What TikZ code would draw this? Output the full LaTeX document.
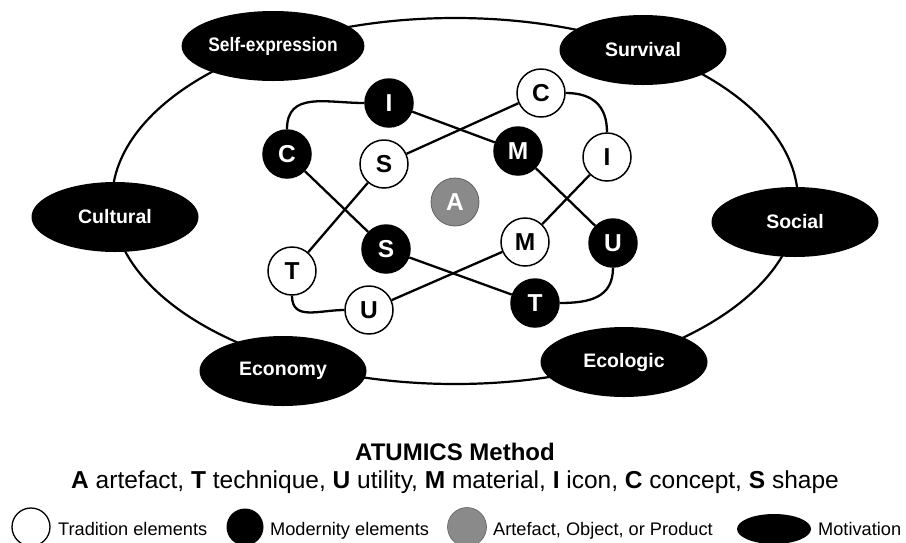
\documentclass[tikz,border=0pt]{standalone}
\usepackage{fontspec}
\setmainfont{Liberation Sans}
\usepackage{graphicx}
\usetikzlibrary{shapes.geometric}
\definecolor{artgray}{RGB}{138,138,138}
\begin{document}
\begin{tikzpicture}[x=1pt,y=-1pt,
  tcirc/.style={circle, draw=black, line width=1.5pt, fill=white, minimum size=48pt, inner sep=0pt,
    font=\fontsize{24.5}{24}\selectfont\bfseries, text=black},
  mcirc/.style={tcirc, fill=black, text=white},
  acirc/.style={tcirc, fill=artgray, draw=artgray!70!black, line width=0.8pt, text=white},
  motiv/.style={ellipse, fill=black, minimum width=167pt, minimum height=70pt, inner sep=0pt,
    text=white, font=\fontsize{19.5}{20}\selectfont\bfseries},
  link/.style={line width=2.3pt},
  legtext/.style={anchor=base west, font=\fontsize{18.2}{20}\selectfont, inner sep=0pt}
]
\useasboundingbox (0,0) rectangle (906,542);

% outer ring
\node[ellipse, draw=black, line width=2.2pt, minimum width=686pt, minimum height=366pt, inner sep=0pt] (outer) at (455,201) {};

% motivations
\node[motiv] (selfexp) at (273,46) {\scalebox{0.89}[1]{Self-expression}};
\node[motiv] (survival) at (643,50) {Survival};
\node[motiv] (cultural) at (115,217) {Cultural};
\node[motiv] (social) at (795,222) {Social};
\node[motiv] (economy) at (283,371) {Economy};
\node[motiv] (ecologic) at (624,362) {Ecologic};

% modernity elements
\node[mcirc] (Ib) at (389,103) {I};
\node[mcirc] (Cb) at (287,154) {C};
\node[mcirc] (Mb) at (518,151) {M};
\node[mcirc] (Sb) at (386,249) {S};
\node[mcirc] (Ub) at (613,243) {U};
\node[mcirc] (Tb) at (535,303) {T};

% tradition elements
\node[tcirc] (Cw) at (541,93) {C};
\node[tcirc] (Sw) at (384,164) {S};
\node[tcirc] (Iw) at (607,157) {I};
\node[tcirc] (Mw) at (525,242) {M};
\node[tcirc] (Tw) at (292,271) {T};
\node[tcirc] (Uw) at (369,310) {U};

% artefact
\node[acirc] (A) at (455,202) {A};

% modernity loop
\draw[link] (Cb) to[out=90,in=180,looseness=1.2] (Ib);
\draw[link] (Ib) -- (Mb);
\draw[link] (Mb) -- (Ub);
\draw[link] (Ub) to[out=-90,in=0,looseness=1.2] (Tb);
\draw[link] (Tb) -- (Sb);
\draw[link] (Sb) -- (Cb);

% tradition loop
\draw[link] (Cw) to[out=0,in=90,looseness=1.2] (Iw);
\draw[link] (Iw) -- (Mw);
\draw[link] (Mw) -- (Uw);
\draw[link] (Uw) to[out=180,in=-90,looseness=1.2] (Tw);
\draw[link] (Tw) -- (Sw);
\draw[link] (Sw) -- (Cw);

% captions
\node[anchor=base, inner sep=0pt, font=\fontsize{24}{26}\selectfont\bfseries] (title) at (455,460) {ATUMICS Method};
\node[anchor=base, inner sep=0pt, font=\fontsize{24.5}{26}\selectfont] (desc) at (455,488)
  {\textbf{A} artefact, \textbf{T} technique, \textbf{U} utility, \textbf{M} material, \textbf{I} icon, \textbf{C} concept, \textbf{S} shape};

% legend
\node[circle, draw=black, line width=1.3pt, fill=white, minimum size=38pt, inner sep=0pt] (legT) at (31,527) {};
\node[legtext] (legTt) at (58,535) {Tradition elements};
\node[circle, fill=black, minimum size=37pt, inner sep=0pt] (legM) at (245,527) {};
\node[legtext] (legMt) at (270,535) {Modernity elements};
\node[circle, fill=artgray, draw=artgray!70!black, line width=0.6pt, minimum size=39pt, inner sep=0pt] (legA) at (467,527) {};
\node[legtext] (legAt) at (493,535) {Artefact, Object, or Product};
\node[ellipse, fill=black, minimum width=74pt, minimum height=30pt, inner sep=0pt] (legV) at (774,529) {};
\node[legtext] (legVt) at (818,535) {Motivation};
\end{tikzpicture}
\end{document}
